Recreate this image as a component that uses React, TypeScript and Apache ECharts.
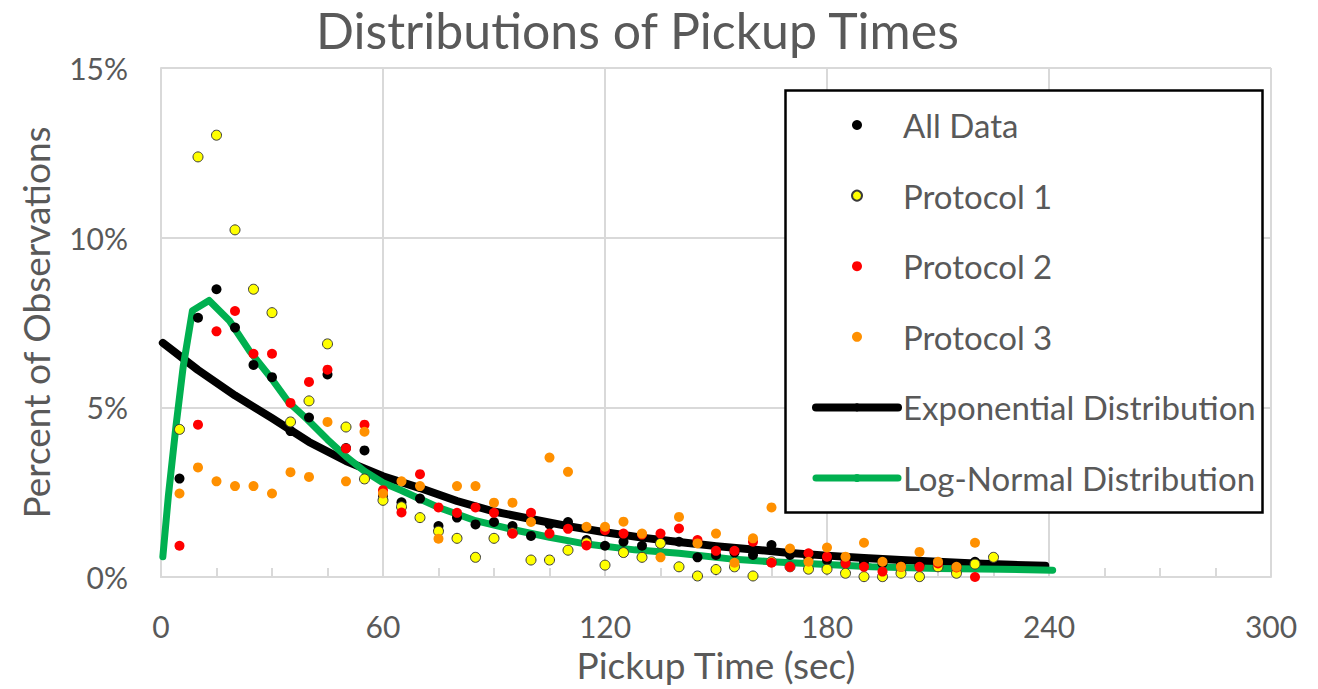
import React, { useEffect, useRef } from "react";
import * as echarts from "echarts";

// Pickup time bins (sec)
const times = [5, 10, 15, 20, 25, 30, 35, 40, 45, 50, 55, 60, 65, 70, 75, 80, 85, 90, 95, 100, 105, 110, 115, 120, 125, 130, 135, 140, 145, 150, 155, 160, 165, 170, 175, 180, 185, 190, 195, 200, 205, 210, 215, 220];

// Percent of observations per bin
const allData = [2.9, 7.64, 8.48, 7.35, 6.25, 5.89, 4.3, 4.7, 5.97, 3.8, 3.73, 2.4, 2.2, 2.31, 1.5, 1.75, 1.55, 1.62, 1.5, 1.21, 1.55, 1.62, 1.09, 0.92, 1.04, 0.92, 1.04, 1.04, 0.58, 0.65, 0.72, 0.65, 0.94, 0.65, 0.55, 0.5, 0.45, 0.45, 0.4, 0.35, 0.35, 0.33, 0.3, 0.45];
const protocol1 = [4.35, 12.38, 13.02, 10.23, 8.48, 7.79, 4.57, 5.19, 6.87, 4.42, 2.89, 2.26, 2.07, 1.75, 1.35, 1.14, 0.58, 1.14, 1.3, 0.5, 0.5, 0.79, 1.01, 0.35, 0.72, 0.58, 0.99, 0.3, 0.03, 0.22, 0.3, 0.03, 0.45, 0.3, 0.23, 0.23, 0.11, 0.01, 0.01, 0.11, 0.01, 0.3, 0.11, 0.38];
const protocol1Extra = { time: 225, value: 0.58 };
const protocol2 = [0.92, 4.49, 7.24, 7.84, 6.58, 6.58, 5.13, 5.75, 6.11, 3.79, 4.49, 2.56, 1.9, 3.03, 2.05, 1.89, 2.05, 1.89, 1.28, 1.89, 1.28, 1.42, 0.93, 1.38, 1.28, 1.25, 1.28, 1.43, 1.09, 0.77, 0.77, 1.04, 0.42, 0.3, 0.7, 0.6, 0.4, 0.3, 0.16, 0.3, 0.3, 0.4, 0.28, 0.0];
const protocol3 = [2.46, 3.23, 2.82, 2.68, 2.68, 2.46, 3.09, 2.95, 4.57, 2.82, 4.28, 2.46, 2.82, 2.68, 1.13, 2.68, 2.68, 2.19, 2.19, 1.62, 3.52, 3.1, 1.48, 1.48, 1.63, 1.28, 0.58, 1.77, 0.99, 1.28, 0.42, 1.14, 2.05, 0.84, 0.45, 0.87, 0.6, 1.01, 0.45, 0.3, 0.74, 0.45, 0.3, 1.01];

// Fitted curves
const expTimes = [0.5, 10, 20, 30, 40, 50, 60, 70, 80, 90, 100, 110, 120, 130, 140, 150, 160, 170, 180, 190, 200, 210, 220, 230, 239];
const expValues = [6.9, 6.1, 5.35, 4.68, 3.98, 3.42, 2.97, 2.62, 2.24, 1.93, 1.71, 1.5, 1.32, 1.16, 1.03, 0.91, 0.81, 0.71, 0.63, 0.56, 0.5, 0.45, 0.4, 0.36, 0.33];
const logTimes = [0.5, 2, 4, 6, 8.5, 13, 18.5, 24, 29.5, 34.5, 39.5, 45, 50, 55, 60, 65, 70, 75, 85, 95, 105, 115, 128, 140, 155, 165, 180, 192, 210, 227, 241];
const logValues = [0.6, 2.4, 4.4, 6.2, 7.85, 8.15, 7.55, 6.65, 5.9, 5.15, 4.65, 4.05, 3.55, 3.12, 2.78, 2.55, 2.3, 2.05, 1.66, 1.4, 1.17, 0.97, 0.8, 0.7, 0.52, 0.45, 0.37, 0.3, 0.25, 0.23, 0.2];

const xTicks = [0, 300, 60];
const yTicks = [0, 15, 5];

const FONT = "Lato, 'Open Sans', sans-serif";
const TEXT = "#595959";
const GRID = "#d9d9d9";

const pairs = (xs: number[], ys: number[]) => xs.map((x, i) => [x, ys[i]]);

export default function App() {
  const ref = useRef<HTMLDivElement>(null);

  useEffect(() => {
    if (!ref.current) return;
    const chart = echarts.init(ref.current, undefined, { renderer: "svg" });
    const legendNames = ["All Data", "Protocol 1", "Protocol 2", "Protocol 3", "Exponential Distribution", "Log-Normal Distribution"];
    chart.setOption({
      animation: false,
      backgroundColor: "#ffffff",
      textStyle: { fontFamily: FONT },
      grid: { left: 161, top: 68, width: 1110, height: 509, containLabel: false },
      xAxis: {
        type: "value",
        min: xTicks[0],
        max: xTicks[1],
        interval: xTicks[2],
        name: "Pickup Time (sec)",
        nameLocation: "middle",
        nameGap: 67,
        nameTextStyle: { fontSize: 37, color: TEXT, fontFamily: FONT },
        axisLine: { show: true, lineStyle: { color: GRID, width: 2 } },
        axisTick: { show: true, inside: true, length: 9, lineStyle: { color: GRID, width: 2 } },
        minorTick: { show: true, splitNumber: 4, length: 9, lineStyle: { color: GRID, width: 2 } },
        splitLine: { show: true, lineStyle: { color: GRID, width: 2 } },
        axisLabel: { margin: 34, fontSize: 30, color: TEXT, fontFamily: FONT },
      },
      yAxis: {
        type: "value",
        min: yTicks[0],
        max: yTicks[1],
        interval: yTicks[2],
        name: "Percent of Observations",
        nameLocation: "middle",
        nameGap: 107,
        nameTextStyle: { fontSize: 37, color: TEXT, fontFamily: FONT },
        axisLine: { show: true, lineStyle: { color: GRID, width: 2 } },
        axisTick: { show: false },
        splitLine: { show: true, lineStyle: { color: GRID, width: 2 } },
        axisLabel: { margin: 33, fontSize: 30, color: TEXT, fontFamily: FONT, formatter: "{value}%" },
      },
      graphic: [
        {
          type: "text",
          left: 316,
          top: 5,
          z: 10,
          style: { text: "Distributions of Pickup Times", fontSize: 50, fill: TEXT, fontFamily: FONT },
        },
        {
          type: "rect",
          z: 3,
          shape: { x: 785.5, y: 90.5, width: 477, height: 422 },
          style: { fill: "#ffffff", stroke: "#000000", lineWidth: 2.5 },
        },
      ],
      legend: {
        orient: "vertical",
        left: 785,
        top: 89,
        padding: [19, 13, 17, 27],
        itemWidth: 82,
        itemHeight: 10,
        itemGap: 36.6,
        z: 5,
        textStyle: { fontSize: 33, color: TEXT, fontFamily: FONT, lineHeight: 34 },
        data: [
          { name: legendNames[0] },
          { name: legendNames[1] },
          { name: legendNames[2] },
          { name: legendNames[3] },
          { name: legendNames[4], lineStyle: { width: 8, cap: "round" } },
          { name: legendNames[5], lineStyle: { width: 7, cap: "round" } },
        ],
      },
      series: [
        {
          name: "Exponential Distribution",
          type: "line",
          z: 2,
          data: pairs(expTimes, expValues),
          symbol: "none",
          smooth: false,
          lineStyle: { color: "#000000", width: 8, cap: "round", join: "round" },
          itemStyle: { color: "#000000" },
        },
        {
          name: "Log-Normal Distribution",
          type: "line",
          z: 2,
          data: pairs(logTimes, logValues),
          symbol: "none",
          smooth: false,
          lineStyle: { color: "#00B050", width: 7, cap: "round", join: "round" },
          itemStyle: { color: "#00B050" },
        },
        {
          name: "All Data",
          type: "scatter",
          z: 3,
          symbolSize: 10,
          data: pairs(times, allData),
          itemStyle: { color: "#000000", opacity: 1 },
        },
        {
          name: "Protocol 1",
          type: "scatter",
          z: 3,
          symbolSize: 10,
          data: [...pairs(times, protocol1), [protocol1Extra.time, protocol1Extra.value]],
          itemStyle: { color: "#FFFF00", borderColor: "#3a3a3a", borderWidth: 1, opacity: 1 },
        },
        {
          name: "Protocol 2",
          type: "scatter",
          z: 3,
          symbolSize: 10,
          data: pairs(times, protocol2),
          itemStyle: { color: "#FF0000", opacity: 1 },
        },
        {
          name: "Protocol 3",
          type: "scatter",
          z: 3,
          symbolSize: 10,
          data: pairs(times, protocol3),
          itemStyle: { color: "#FF9000", opacity: 1 },
        },
      ],
    });
    return () => chart.dispose();
  }, []);

  return <div ref={ref} style={{ position: "absolute", left: 0, top: 0, width: 1318, height: 689 }} />;
}
